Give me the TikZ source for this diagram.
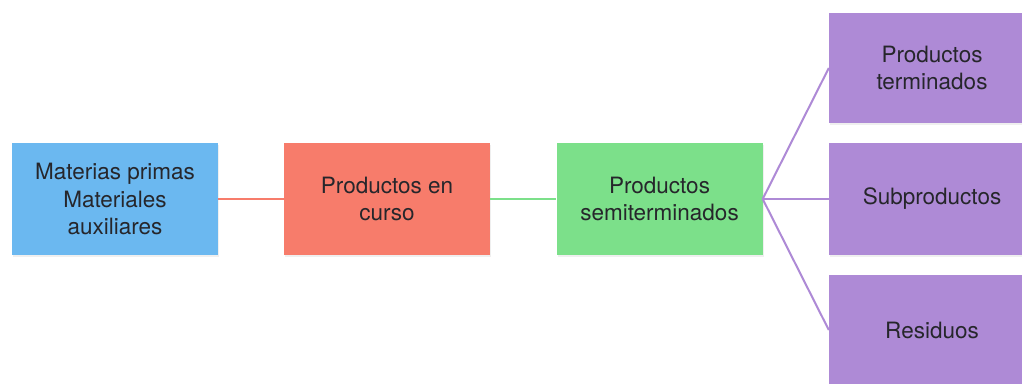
\documentclass[tikz,border=0pt]{standalone}
\usepackage{fontspec}
\setmainfont{TeX Gyre Heros}
\usetikzlibrary{shadows}
\definecolor{cblue}{HTML}{6BB8F0}
\definecolor{cred}{HTML}{F77C6B}
\definecolor{cgreen}{HTML}{7CE08A}
\definecolor{cpurple}{HTML}{AE8AD6}
\definecolor{ctext}{HTML}{26262B}
\tikzset{
  boxst/.style={rectangle, minimum width=206pt, minimum height=112pt, inner sep=0pt,
    align=center, text=ctext, font=\fontsize{22.5}{27.5}\selectfont,
    drop shadow={opacity=0.12, shadow xshift=1pt, shadow yshift=-1.5pt}},
  linkst/.style={line width=2pt},
}
\begin{document}
\begin{tikzpicture}[x=1pt,y=-1pt]
\useasboundingbox (0,0) rectangle (1022,383);
\clip (0,0) rectangle (1022,383);
\fill[white] (0,0) rectangle (1022,383);
\node[boxst, fill=cblue] (mp) at (115,199) {Materias primas\\Materiales\\auxiliares};
\node[boxst, fill=cred] (pc) at (387,199) {Productos en\\curso};
\node[boxst, fill=cgreen] (ps) at (659.5,199) {Productos\\semiterminados};
\node[boxst, fill=cpurple, minimum height=110pt] (pt) at (932,68) {Productos\\terminados};
\node[boxst, fill=cpurple] (sp) at (932,199) {Subproductos};
\node[boxst, fill=cpurple, minimum height=110pt] (re) at (932,330) {Residuos};
\draw[linkst, cred] (mp.east) -- (pc.west);
\draw[linkst, cgreen] (pc.east) -- (ps.west);
\draw[linkst, cpurple] (ps.east) -- (pt.west);
\draw[linkst, cpurple] (ps.east) -- (sp.west);
\draw[linkst, cpurple] (ps.east) -- (re.west);
\end{tikzpicture}
\end{document}
